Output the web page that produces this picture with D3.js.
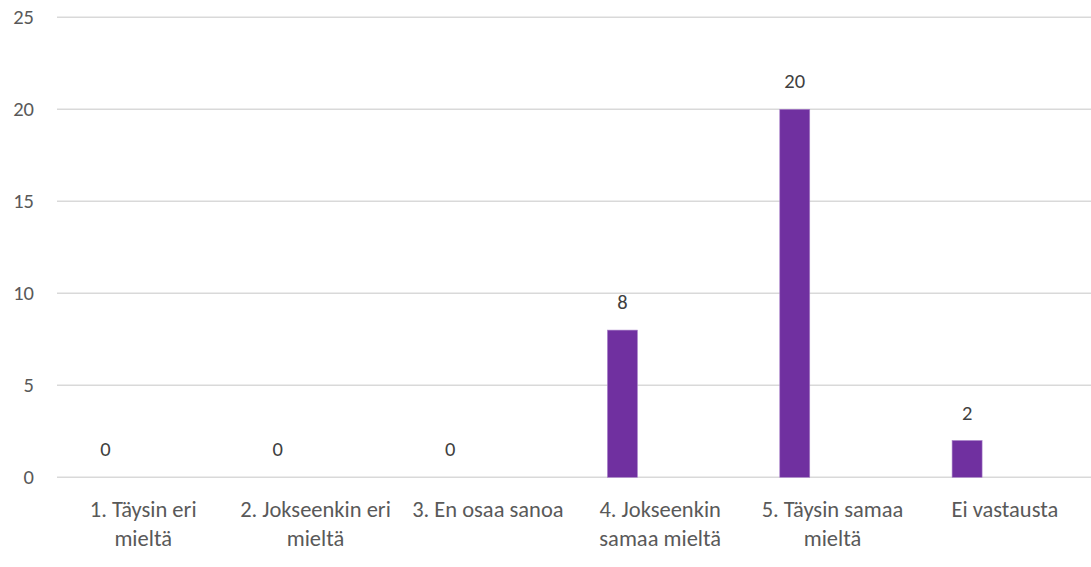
<!DOCTYPE html>
<html>
<head>
<meta charset="utf-8">
<script src="https://cdn.jsdelivr.net/npm/d3@7"></script>
<style>
    body { margin: 0; background: #fff; }
    svg text { font-family: Calibri, Carlito, Lato, sans-serif; }
</style>
</head>
<body>
<div id="chart"></div>
<script>
// categories and values
const categories = [
    "1. Täysin eri mieltä",
    "2. Jokseenkin eri mieltä",
    "3. En osaa sanoa",
    "4. Jokseenkin samaa mieltä",
    "5. Täysin samaa mieltä",
    "Ei vastausta"
];
// how the axis labels wrap in the original
const tickLines = [
    ["1. Täysin eri", "mieltä"],
    ["2. Jokseenkin eri", "mieltä"],
    ["3. En osaa sanoa"],
    ["4. Jokseenkin", "samaa mieltä"],
    ["5. Täysin samaa", "mieltä"],
    ["Ei vastausta"]
];
const values = [0, 0, 0, 8, 20, 2];
const yTicks = [0, 5, 10, 15, 20, 25];

const width = 1091, height = 567;
const margin = { top: 17.3, right: 0, bottom: 89.7, left: 57 };
const innerW = width - margin.left - margin.right;
const innerH = height - margin.top - margin.bottom;

const svg = d3.select("#chart")
    .append("svg")
    .attr("width", width)
    .attr("height", height);

const chart = svg.append("g")
    .attr("transform", `translate(${margin.left}, ${margin.top})`);

const x = d3.scaleBand()
    .domain(categories)
    .range([0, innerW]);

const y = d3.scaleLinear()
    .domain([0, 25])
    .range([innerH, 0]);

// the bar sits left of the category centre, like an Excel cluster slot
const slot = d3.scaleBand()
    .domain(["bar", "rest"])
    .range([x.bandwidth() * 0.194, x.bandwidth() * 0.542]);
const barW = x.bandwidth() * 0.174;

// gridlines
chart.append("g")
    .selectAll("line")
    .data(yTicks)
    .join("line")
    .attr("x1", 0)
    .attr("x2", innerW)
    .attr("y1", d => y(d))
    .attr("y2", d => y(d))
    .attr("stroke", "#d9d9d9")
    .attr("stroke-width", 1.5);

// y axis labels
const yAxis = chart.append("g")
    .call(d3.axisLeft(y).tickValues(yTicks).tickSize(0).tickPadding(23));
yAxis.select(".domain").remove();
yAxis.selectAll("text")
    .attr("fill", "#595959")
    .style("font-size", "20.5px");

// bars
chart.append("g")
    .selectAll("rect")
    .data(values)
    .join("rect")
    .attr("x", (d, i) => x(categories[i]) + slot("bar"))
    .attr("y", d => y(d))
    .attr("width", barW)
    .attr("height", d => y(0) - y(d))
    .attr("fill", "#7030a0")
    .attr("stroke", "#a982c9")
    .attr("stroke-width", 0.6);

// data labels
chart.append("g")
    .selectAll("text")
    .data(values)
    .join("text")
    .attr("x", (d, i) => x(categories[i]) + slot("bar") + barW / 2)
    .attr("y", d => y(d) - 28)
    .attr("dy", "0.35em")
    .attr("text-anchor", "middle")
    .attr("fill", "#404040")
    .style("font-size", "20.5px")
    .text(d => d);

// x axis labels, wrapped as in the original
const xLabels = chart.append("g")
    .selectAll("text")
    .data(tickLines)
    .join("text")
    .attr("text-anchor", "middle")
    .attr("fill", "#595959")
    .style("font-size", "22.5px")
    .attr("transform", (d, i) =>
        `translate(${x(categories[i]) + x.bandwidth() / 2}, ${innerH + 32})`);

xLabels.selectAll("tspan")
    .data(d => d)
    .join("tspan")
    .attr("x", 0)
    .attr("y", (d, j) => j * 28.7)
    .attr("dy", "0.35em")
    .text(d => d);
</script>
</body>
</html>
